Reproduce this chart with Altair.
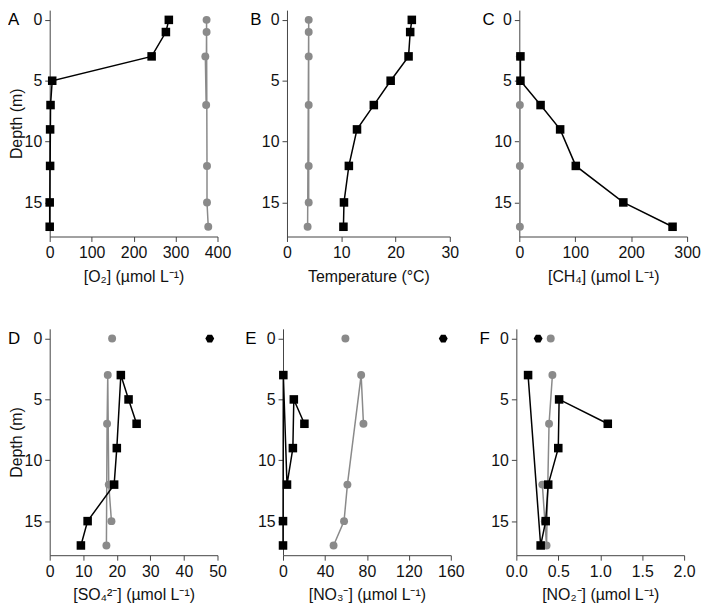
import altair as alt
import pandas as pd

# ---------------- data ----------------
DEPTH_A_BLACK = [0, 1, 3, 5, 7, 9, 12, 15, 17]
O2_BLACK = [284, 277, 243, 6, 2, 1, 1, 0, 0]
DEPTH_A_GRAY = [0, 1, 3, 7, 12, 15, 17]
O2_GRAY = [374, 374, 371, 373, 375, 375, 378]

DEPTH_B_BLACK = [0, 1, 3, 5, 7, 9, 12, 15, 17]
TEMP_BLACK = [23.0, 22.7, 22.4, 19.1, 16.0, 12.9, 11.4, 10.5, 10.4]
DEPTH_B_GRAY = [0, 1, 3, 7, 12, 15, 17]
TEMP_GRAY = [4.0, 4.0, 4.0, 4.0, 4.0, 4.0, 3.8]

DEPTH_C_BLACK = [3, 5, 7, 9, 12, 15, 17]
CH4_BLACK = [2, 2, 38, 73, 101, 186, 274]
DEPTH_C_GRAY = [3, 7, 12, 17]
CH4_GRAY = [1, 1, 1, 1]

DEPTH_D_BLACK = [3, 5, 7, 9, 12, 15, 17]
SO4_BLACK = [21.2, 23.5, 25.9, 20.0, 19.2, 11.3, 9.3]
DEPTH_D_GRAY = [3, 7, 12, 15, 17]
SO4_GRAY = [17.3, 17.1, 17.6, 18.4, 16.9]
SO4_SURF_BLACK = 47.7
SO4_SURF_GRAY = 18.6

DEPTH_E_BLACK = [3, 5, 7, 9, 12, 15, 17]
NO3_BLACK = [0.3, 10.3, 20.4, 9.4, 3.8, 0.0, 0.0]
DEPTH_E_GRAY = [3, 7, 12, 15, 17]
NO3_GRAY = [74.5, 76.7, 61.4, 58.2, 48.2]
NO3_SURF_BLACK = 152.8
NO3_SURF_GRAY = 59.5

DEPTH_F_BLACK = [3, 5, 7, 9, 12, 15, 17]
NO2_BLACK = [0.14, 0.51, 1.09, 0.50, 0.38, 0.35, 0.29]
DEPTH_F_GRAY = [3, 7, 12, 15, 17]
NO2_GRAY = [0.43, 0.39, 0.31, 0.34, 0.36]
NO2_SURF_BLACK = 0.26
NO2_SURF_GRAY = 0.41

Y_DOMAIN = [-0.8, 17.8]
Y_TICKS = [0, 5, 10, 15]

FONT = "Liberation Sans"
GRAY = "#8a8a8a"
HEX = "M-1,0L-0.5,-0.866L0.5,-0.866L1,0L0.5,0.866L-0.5,0.866Z"
PANEL_H = 228


def panel(letter, letter_dx, bd, bv, gd, gv, surf_b, surf_g,
          xdom, xticks, xtitle, width, ytitle, xfmt="d"):
    black = pd.DataFrame({"depth": bd, "value": bv})
    gray = pd.DataFrame({"depth": gd, "value": gv})
    xs = alt.Scale(domain=xdom, nice=False, zero=False)
    ys = alt.Scale(domain=Y_DOMAIN, reverse=True, nice=False, zero=False)
    xax = alt.Axis(values=xticks, format=xfmt, title=xtitle, labelFlush=False)
    yax = alt.Axis(values=Y_TICKS, title="Depth (m)" if ytitle else None,
                   labelFlush=False)

    def enc(ch):
        return ch.encode(
            x=alt.X("value:Q", scale=xs, axis=xax),
            y=alt.Y("depth:Q", scale=ys, axis=yax),
        )

    layers = [
        enc(alt.Chart(gray).mark_line(color=GRAY, strokeWidth=1.5)),
        enc(alt.Chart(gray).mark_point(shape="circle", filled=True, color=GRAY,
                                       size=64, opacity=1)),
        enc(alt.Chart(black).mark_line(color="black", strokeWidth=1.5)),
        enc(alt.Chart(black).mark_point(shape="square", filled=True, color="black",
                                        size=74, opacity=1)),
    ]
    if surf_g is not None:
        sg = pd.DataFrame({"depth": [0], "value": [surf_g]})
        layers.append(enc(alt.Chart(sg).mark_point(shape="circle", filled=True,
                                                   color=GRAY, size=64, opacity=1)))
    if surf_b is not None:
        sb = pd.DataFrame({"depth": [0], "value": [surf_b]})
        layers.append(enc(alt.Chart(sb).mark_point(shape=HEX, filled=True,
                                                   color="black", size=80, opacity=1)))
    lab = alt.Chart(pd.DataFrame({"t": [letter]})).mark_text(
        align="left", baseline="middle", font=FONT, fontSize=17, color="black"
    ).encode(x=alt.value(letter_dx), y=alt.value(10), text="t:N")
    layers.append(lab)
    return alt.layer(*layers).properties(width=width, height=PANEL_H)


pA = panel("A", -42, DEPTH_A_BLACK, O2_BLACK, DEPTH_A_GRAY, O2_GRAY, None, None,
           [0, 400], [0, 100, 200, 300, 400], "[O₂] (µmol L⁻¹)", 169, True)
pB = panel("B", -37, DEPTH_B_BLACK, TEMP_BLACK, DEPTH_B_GRAY, TEMP_GRAY, None, None,
           [0, 30], [0, 10, 20, 30], "Temperature (°C)", 164, False)
pC = panel("C", -37, DEPTH_C_BLACK, CH4_BLACK, DEPTH_C_GRAY, CH4_GRAY, None, None,
           [0, 300], [0, 100, 200, 300], "[CH₄] (µmol L⁻¹)", 169, False)
pD = panel("D", -42, DEPTH_D_BLACK, SO4_BLACK, DEPTH_D_GRAY, SO4_GRAY,
           SO4_SURF_BLACK, SO4_SURF_GRAY,
           [0, 50], [0, 10, 20, 30, 40, 50], "[SO₄²⁻] (µmol L⁻¹)", 169, True)
pE = panel("E", -38, DEPTH_E_BLACK, NO3_BLACK, DEPTH_E_GRAY, NO3_GRAY,
           NO3_SURF_BLACK, NO3_SURF_GRAY,
           [0, 160], [0, 40, 80, 120, 160], "[NO₃⁻] (µmol L⁻¹)", 169, False)
pF = panel("F", -37, DEPTH_F_BLACK, NO2_BLACK, DEPTH_F_GRAY, NO2_GRAY,
           NO2_SURF_BLACK, NO2_SURF_GRAY,
           [0, 2], [0, 0.5, 1.0, 1.5, 2.0], "[NO₂⁻] (µmol L⁻¹)", 169, False, ".1f")

row1 = alt.hconcat(pA, pB, pC, spacing=70, bounds="flush")
row2 = alt.hconcat(pD, pE, pF, spacing=66, bounds="flush")

chart = alt.vconcat(row1, row2, spacing=45).properties(
    padding=0, background="white"
).configure_view(stroke=None).configure_axis(
    grid=False,
    domainColor="#444444",
    tickColor="#444444",
    tickSize=5,
    labelColor="#111111",
    titleColor="#111111",
    labelFont=FONT,
    titleFont=FONT,
    labelFontSize=16,
    titleFontSize=16,
    titleFontWeight="normal",
    labelPadding=3,
    titlePadding=8,
).configure_axisY(labelPadding=3, titlePadding=0)

chart.save("out.html", embed_options={"renderer": "svg", "actions": False})
